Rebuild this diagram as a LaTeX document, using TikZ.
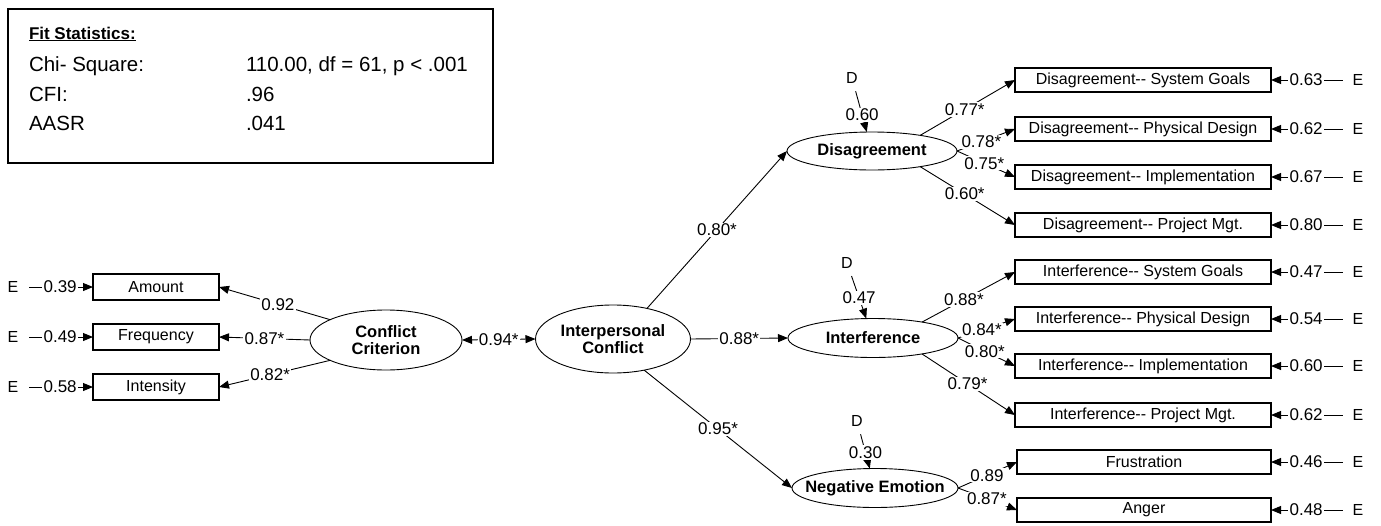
\documentclass[tikz,border=0pt]{standalone}
\usepackage{fontspec}
\setmainfont{Liberation Sans}
\usetikzlibrary{shapes.geometric,arrows.meta}
\newcommand\twohy{-\kern0pt-}

\begin{document}
\begin{tikzpicture}[x=1pt,y=-1pt,
  every node/.style={inner sep=0pt, outer sep=0pt},
  >={Triangle[length=10pt,width=8pt]},
  num/.style={font=\fontsize{17}{17}\selectfont, fill=white, inner sep=1.2pt},
  fs/.style={anchor=base west, font=\fontsize{20.5}{22}\selectfont},
  obs/.style={draw, line width=1.3pt, minimum width=126pt, minimum height=26pt,
              font=\fontsize{16}{16}\selectfont},
  obsr/.style={obs, minimum width=256pt, minimum height=24pt},
  lat/.style={ellipse, draw, line width=0.9pt, inner sep=0pt},
  lattxt/.style={font=\bfseries\fontsize{16.5}{16.5}\selectfont, align=center},
  err/.style={font=\fontsize{16}{16}\selectfont},
  conn/.style={line width=0.9pt, ->},
]
\useasboundingbox (0,0) rectangle (1381,525);

% fit statistics panel
\node[draw, line width=2pt, minimum width=485pt, minimum height=154pt, anchor=north west]
  (fit) at (8,9) {};
\node[anchor=base west, font=\bfseries\fontsize{17}{17}\selectfont] (fith) at (29,39)
  {\underline{Fit Statistics:}};
\node[fs] (chi)  at (29,71.5)  {Chi- Square:};
\node[fs] (chiv) at (246,71.5) {110.00, df = 61, p < .001};
\node[fs] (cfi)  at (29,101.5) {CFI:};
\node[fs] (cfiv) at (246,101.5) {.96};
\node[fs] (aasr) at (29,130.5) {AASR};
\node[fs] (aasrv) at (246,130.5) {.041};

% conflict criterion indicators
\node[obs] (amt) at (156,287) {Amount};
\node[obs] (frq) at (156,337) {Frequency};
\node[obs] (int) at (156,387) {Intensity};
\node[err] (e1) at (13,287) {E};
\node[err] (e2) at (13,337) {E};
\node[err] (e3) at (13,387) {E};

% latent variables
\node[lat, minimum width=152pt, minimum height=60pt] (cc)  at (386,340) {};
\node[lattxt] (cctxt) at (cc) {Conflict\\Criterion};
\node[lat, minimum width=155pt, minimum height=68pt] (ic)  at (613,339) {};
\node[lattxt] (ictxt) at (ic) {Interpersonal\\Conflict};
\node[lat, minimum width=170pt, minimum height=38pt] (dis) at (872,151) {};
\node[lattxt] (distxt) at (dis) {Disagreement};
\node[lat, minimum width=170pt, minimum height=39pt] (itf) at (873,338) {};
\node[lattxt] (itftxt) at (itf) {Interference};
\node[lat, minimum width=166pt, minimum height=39pt] (neg) at (875,488) {};
\node[lattxt] (negtxt) at (neg) {Negative Emotion};

% disturbances
\node[err] (d1) at (852,78)  {D};
\node[err] (d2) at (847,263) {D};
\node[err] (d3) at (857,421) {D};

% right-hand indicators
\node[obsr] (b1)  at (1143,80)  {Disagreement\twohy{} System Goals};
\node[obsr] (b2)  at (1143,129) {Disagreement\twohy{} Physical Design};
\node[obsr] (b3)  at (1143,177) {Disagreement\twohy{} Implementation};
\node[obsr] (b4)  at (1143,225) {Disagreement\twohy{} Project Mgt.};
\node[obsr] (b5)  at (1143,272) {Interference\twohy{} System Goals};
\node[obsr] (b6)  at (1143,319) {Interference\twohy{} Physical Design};
\node[obsr] (b7)  at (1143,366) {Interference\twohy{} Implementation};
\node[obsr] (b8)  at (1143,415) {Interference\twohy{} Project Mgt.};
\node[obsr, minimum width=254pt] (b9)  at (1144,462) {Frustration};
\node[obsr, minimum width=254pt] (b10) at (1144,510) {Anger};

\foreach \i/\y in {1/80,2/129,3/177,4/225,5/272,6/319,7/366,8/415,9/462,10/510}
  \node[err] (r\i) at (1358,\y) {E};

% error terms on the left
\draw[conn, shorten <=11pt] (e1) -- node[num,pos=0.56]{0.39} (amt);
\draw[conn, shorten <=11pt] (e2) -- node[num,pos=0.56]{0.49} (frq);
\draw[conn, shorten <=11pt] (e3) -- node[num,pos=0.56]{0.58} (int);

% loadings of conflict criterion
\draw[conn] (cc.160) -- node[num,pos=0.47]{0.92} (amt.east);
\draw[conn] (cc.west) -- node[num]{0.87*} (frq.east);
\draw[conn] (cc.200) -- node[num,pos=0.54]{0.82*} (int.east);

% structural paths
\draw[conn, <->] (cc.east) -- node[num]{0.94*} (ic.west);
\draw[conn] (ic.42) -- node[num]{0.80*} (dis.west);
\draw[conn] (ic.east) -- node[num]{0.88*} (itf.west);
\draw[conn] (ic.-45) -- node[num]{0.95*} (neg.west);

% disturbances into the factors
\draw[conn, shorten <=8pt] (d1) -- node[num,pos=0.65]{0.60} (dis);
\draw[conn, shorten <=8pt] (d2) -- node[num,pos=0.59]{0.47} (itf);
\draw[conn, shorten <=8pt] (d3) -- node[num,pos=0.62]{0.30} (neg);

% disagreement loadings
\draw[conn] (dis.18)  -- node[num,pos=0.47]{0.77*} (b1.west);
\draw[conn] (dis.east) -- node[num,pos=0.42]{0.78*} (b2.west);
\draw[conn] (dis.east) -- node[num,pos=0.47]{0.75*} (b3.west);
\draw[conn] (dis.-18) -- node[num,pos=0.47]{0.60*} (b4.west);

% interference loadings
\draw[conn] (itf.18)  -- node[num,pos=0.45]{0.88*} (b5.west);
\draw[conn] (itf.east) -- node[num,pos=0.42]{0.84*} (b6.west);
\draw[conn] (itf.east) -- node[num,pos=0.47]{0.80*} (b7.west);
\draw[conn] (itf.-18) -- node[num,pos=0.49]{0.79*} (b8.west);

% negative emotion loadings
\draw[conn] (neg.east) -- node[num,pos=0.49]{0.89} (b9.west);
\draw[conn] (neg.east) -- node[num,pos=0.49]{0.87*} (b10.west);

% error terms on the right
\foreach \i/\v in {1/0.63,2/0.62,3/0.67,4/0.80,5/0.47,6/0.54,7/0.60,8/0.62,9/0.46,10/0.48}
  \draw[conn, shorten <=10pt] (r\i) -- node[num,pos=0.57]{\v} (b\i);
\end{tikzpicture}
\end{document}
